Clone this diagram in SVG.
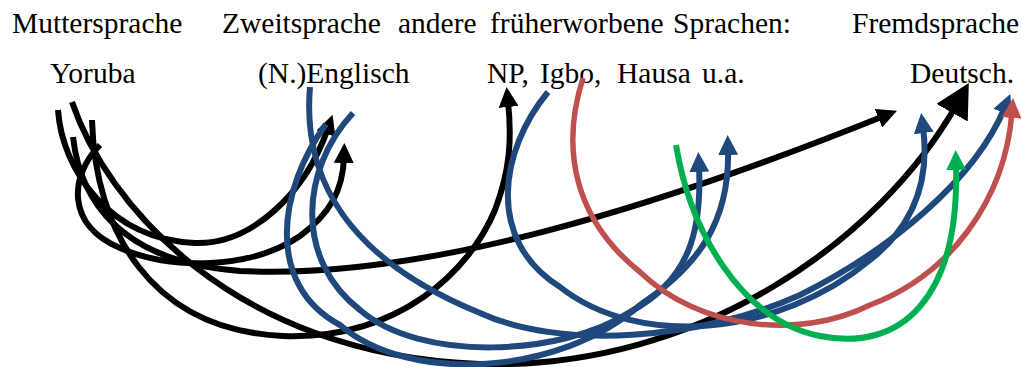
<svg xmlns="http://www.w3.org/2000/svg" width="1021" height="367" viewBox="0 0 1021 367">
  <style>
    .lbl { font-family: "Liberation Serif", "Times New Roman", serif; font-size: 29.5px; fill: #000; }
    .c { fill: none; stroke-linecap: butt; }
    .k { stroke: #000; stroke-width: 6; }
    .b { stroke: #1F497D; stroke-width: 6; }
    .r { stroke: #C0504D; stroke-width: 5.5; }
    .g { stroke: #00B050; stroke-width: 6; }
  </style>
  <defs>
    <marker id="ah-k" viewBox="0 0 20 20" refX="6" refY="10" markerWidth="20" markerHeight="20" markerUnits="userSpaceOnUse" orient="auto">
      <path d="M0,0 L20,10 L0,20 z" fill="#000"/>
    </marker>
    <marker id="ah-k-lg" viewBox="0 0 34 36" refX="10" refY="18" markerWidth="34" markerHeight="36" markerUnits="userSpaceOnUse" orient="auto">
      <path d="M0,0 L34,18 L0,36 z" fill="#000"/>
    </marker>
    <marker id="ah-b" viewBox="0 0 20 20" refX="6" refY="10" markerWidth="20" markerHeight="20" markerUnits="userSpaceOnUse" orient="auto">
      <path d="M0,0 L20,10 L0,20 z" fill="#1F497D"/>
    </marker>
    <marker id="ah-r" viewBox="0 0 20 20" refX="6" refY="10" markerWidth="20" markerHeight="20" markerUnits="userSpaceOnUse" orient="auto">
      <path d="M0,0 L20,10 L0,20 z" fill="#C0504D"/>
    </marker>
    <marker id="ah-g" viewBox="0 0 20 20" refX="6" refY="10" markerWidth="20" markerHeight="20" markerUnits="userSpaceOnUse" orient="auto">
      <path d="M0,0 L20,10 L0,20 z" fill="#00B050"/>
    </marker>
  </defs>

  <!-- column headings and language labels -->
  <g id="node-muttersprache">
    <text class="lbl" x="12" y="33">Muttersprache</text>
    <text class="lbl" x="50" y="83">Yoruba</text>
  </g>
  <g id="node-zweitsprache">
    <text class="lbl" x="222" y="33">Zweitsprache</text>
    <text class="lbl" x="258" y="83">(N.)Englisch</text>
  </g>
  <g id="node-andere">
    <text class="lbl" y="33"><tspan x="398">andere</tspan><tspan x="490">früherworbene</tspan><tspan x="673">Sprachen:</tspan></text>
    <text class="lbl" y="83"><tspan x="487">NP,</tspan><tspan x="540">Igbo,</tspan><tspan x="617">Hausa</tspan><tspan x="702">u.a.</tspan></text>
  </g>
  <g id="node-fremdsprache">
    <text class="lbl" x="852" y="33">Fremdsprache</text>
    <text class="lbl" x="910" y="83">Deutsch.</text>
  </g>

  <!-- transfer arrows between the languages -->
  <g id="connectors">
    <!-- from Yoruba -->
    <path class="c k" d="M58,110 C62,170 110,240 195,243 C250,245 305,195 328,128" marker-end="url(#ah-k)"/>
    <path class="c k" d="M100,145 C70,175 65,225 120,248 C170,270 250,270 300,236 C330,214 343,190 344,157" marker-end="url(#ah-k)"/>
    <path class="c k" d="M73,137 C80,200 120,262 240,271 C420,280 650,210 884,116" marker-end="url(#ah-k)"/>
    <path class="c k" d="M92,120 C95,230 150,330 283,336 C400,340 470,270 495,210 C510,170 512,140 508,101" marker-end="url(#ah-k)"/>
    <path class="c k" d="M72,102 C105,200 230,355 480,364 C700,370 880,240 957,104" marker-end="url(#ah-k-lg)"/>

    <!-- from (N.)Englisch and NP -->
    <path class="c b" d="M310,87 C302,180 350,260 480,313 C560,350 700,340 800,295 C890,250 975,180 1005,107" marker-end="url(#ah-b)"/>
    <path class="c b" d="M548,92 C500,150 485,240 560,287 C640,350 780,335 870,260 C915,225 930,180 923,127" marker-end="url(#ah-b)"/>
    <path class="c b" d="M353,113 C300,170 295,260 360,310 C420,362 560,357 630,312 C690,280 702,230 699,166" marker-end="url(#ah-b)"/>
    <path class="c b" d="M326,124 C278,190 265,285 340,325 C410,385 560,375 640,305 C700,265 730,220 728,149" marker-end="url(#ah-b)"/>

    <!-- from Igbo / Hausa -->
    <path class="c r" d="M583,78 C560,150 575,220 640,272 C700,330 800,340 870,305 C950,275 1005,200 1012,112" marker-end="url(#ah-r)"/>
    <path class="c g" d="M676,145 C690,230 740,320 820,336 C900,352 960,300 956,164" marker-end="url(#ah-g)"/>
  </g>
</svg>
